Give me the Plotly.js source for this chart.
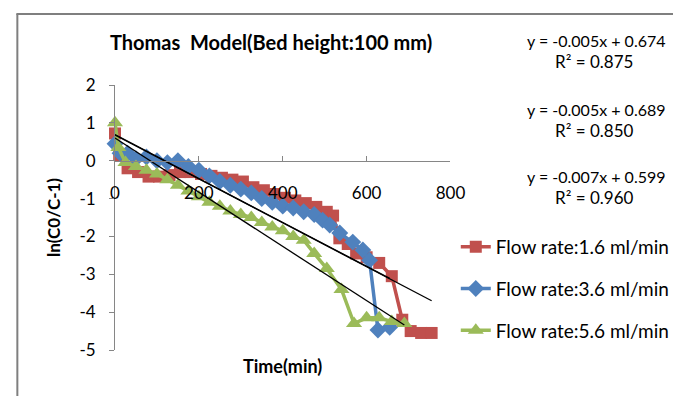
<!DOCTYPE html>
<html>
<head>
<meta charset="utf-8">
<script src="https://cdn.plot.ly/plotly-3.0.1.min.js"></script>
<style>html,body{margin:0;padding:0;background:#fff;}#chart{width:675px;height:396px;}</style>
</head>
<body>
<div id="chart"></div>
<script>
// ---- data ----
const seriesNames = ["Flow rate:1.6 ml/min", "Flow rate:3.6 ml/min", "Flow rate:5.6 ml/min"];

const timeRed = [0, 10, 30, 55, 80, 105, 130, 155, 180, 205, 230, 255, 280, 305, 330, 355, 380, 405, 430, 455, 480, 505, 520, 535, 555, 575, 600, 630, 660, 685, 705, 730, 755];
const lnRed   = [0.72, 0.15, -0.2, -0.3, -0.42, -0.42, -0.38, -0.3, -0.3, -0.35, -0.4, -0.45, -0.5, -0.55, -0.7, -0.78, -0.88, -0.98, -1.05, -1.12, -1.22, -1.35, -1.45, -2.05, -2.2, -2.45, -2.55, -2.7, -3.05, -4.2, -4.5, -4.55, -4.55];

const timeBlue = [0, 12, 30, 50, 75, 100, 125, 150, 175, 200, 225, 250, 275, 300, 325, 350, 375, 400, 425, 450, 475, 495, 512, 536, 567, 591, 607, 627, 655];
const lnBlue   = [0.45, 0.2, 0.2, 0.05, 0.1, 0.0, -0.05, 0.0, -0.15, -0.25, -0.4, -0.55, -0.65, -0.75, -0.85, -1.0, -1.1, -1.2, -1.25, -1.35, -1.42, -1.57, -1.7, -1.91, -2.15, -2.36, -2.63, -4.47, -4.4];

const timeGreen = [0, 8, 25, 50, 75, 100, 125, 150, 175, 200, 225, 250, 275, 300, 325, 350, 375, 400, 425, 450, 475, 505, 540, 570, 600, 630, 660, 690];
const lnGreen   = [1.0, 0.35, -0.05, -0.15, -0.25, -0.35, -0.5, -0.65, -0.8, -0.95, -1.1, -1.2, -1.33, -1.42, -1.5, -1.63, -1.75, -1.85, -2.0, -2.1, -2.45, -2.85, -3.4, -4.3, -4.15, -4.15, -4.25, -4.3];

// trend lines as drawn in the picture
const trendSlope     = [-0.0058, -0.0058, -0.00716];
const trendIntercept = [0.68, 0.69, 0.60];
const eqTexts = ["y = -0.005x + 0.674", "y = -0.005x + 0.689", "y = -0.007x + 0.599"];
const r2Texts = ["R\u00b2 = 0.875", "R\u00b2 = 0.850", "R\u00b2 = 0.960"];

const xTickVals = [0, 200, 400, 600, 800];
const xTickText = ["0", "200", "400", "600", "800"];
const yTickVals = [-5, -4, -3, -2, -1, 0, 1, 2];
const yTickText = ["-5", "-4", "-3", "-2", "-1", "0", "1", "2"];

// ---- styling / layout ----
const FONT = "Lato, 'Open Sans', sans-serif";
const W = 675, H = 396;
const M = {l: 115, r: 0, t: 85, b: 46};
const PAPERW = W - M.l - M.r, PH = H - M.t - M.b;
const PLOT_RIGHT = 451.7;                       // right end of the x axis, in px
const px2x = p => (p - M.l) / PAPERW;
const py2y = p => (H - M.b - p) / PH;

const colors = ["#C0504D", "#4F81BD", "#9BBB59"];
const symbols = ["square", "diamond", "triangle-up"];
const msize = [12, 13, 14];
const times = [timeRed, timeBlue, timeGreen];
const vals = [lnRed, lnBlue, lnGreen];

const traces = [];
for (let i = 0; i < 3; i++) {
  traces.push({
    x: times[i], y: vals[i], name: seriesNames[i], type: "scatter", mode: "lines+markers",
    line: {color: colors[i], width: 3.5},
    marker: {symbol: symbols[i], size: msize[i], color: colors[i]},
    legendgroup: "g" + i, cliponaxis: false
  });
}
for (let i = 0; i < 3; i++) {
  const tx = [0, Math.max(...times[i])];
  traces.push({
    x: tx, y: tx.map(t => trendSlope[i] * t + trendIntercept[i]),
    type: "scatter", mode: "lines", showlegend: false, hoverinfo: "skip",
    line: {color: "#000", width: 1.3}
  });
}

const annotations = [];
const eqY = [40, 109, 176], r2Y = [61, 130, 197];
for (let i = 0; i < 3; i++) {
  annotations.push({xref: "paper", yref: "paper", x: px2x(526), y: py2y(eqY[i]), xanchor: "left", yanchor: "middle",
    text: eqTexts[i], showarrow: false, font: {family: FONT, size: 16, color: "#000"}});
  annotations.push({xref: "paper", yref: "paper", x: px2x(596), y: py2y(r2Y[i]), xanchor: "center", yanchor: "middle",
    text: r2Texts[i], showarrow: false, font: {family: FONT, size: 17, color: "#000"}});
}
annotations.push({xref: "paper", yref: "paper", x: px2x(272), y: py2y(42), xanchor: "center", yanchor: "middle",
  text: "<b>Thomas  Model(Bed height:100 mm)</b>", showarrow: false, font: {family: FONT, size: 20, color: "#000"}});
annotations.push({xref: "paper", yref: "paper", x: px2x(283), y: py2y(366), xanchor: "center", yanchor: "middle",
  text: "<b>Time(min)</b>", showarrow: false, font: {family: FONT, size: 18, color: "#000"}});

const layout = {
  width: W, height: H, margin: M,
  paper_bgcolor: "#fff", plot_bgcolor: "rgba(0,0,0,0)",
  font: {family: FONT, size: 16, color: "#000"},
  showlegend: true,
  legend: {x: px2x(457), xanchor: "left", y: py2y(228), yanchor: "top", bgcolor: "rgba(0,0,0,0)",
    traceorder: "grouped", tracegroupgap: 14, font: {family: FONT, size: 19, color: "#000"}},
  xaxis: {domain: [0, px2x(PLOT_RIGHT)], range: [0, 800], tickvals: xTickVals, ticktext: xTickText, anchor: "free", position: 5 / 7,
    showline: true, linecolor: "#868686", linewidth: 1, ticks: "inside", ticklen: 5, tickcolor: "#868686",
    ticklabelstandoff: 17, showgrid: false, zeroline: false, tickfont: {size: 17}},
  yaxis: {range: [-5, 2], tickvals: yTickVals, ticktext: yTickText, showline: true, linecolor: "#868686", linewidth: 1,
    ticks: "outside", ticklen: 5, tickcolor: "#868686", ticklabelstandoff: 10, showgrid: false, zeroline: false,
    tickfont: {size: 17},
    title: {text: "<b>ln(C0/C-1)</b>", font: {size: 17}, standoff: 14}},
  annotations: annotations,
  shapes: [
    {type: "line", xref: "paper", yref: "paper", x0: px2x(17), x1: px2x(17), y0: py2y(14), y1: py2y(396), line: {color: "#7f7f7f", width: 2}},
    {type: "line", xref: "paper", yref: "paper", x0: px2x(16), x1: px2x(675), y0: py2y(14), y1: py2y(14), line: {color: "#7f7f7f", width: 2}}
  ]
};

Plotly.newPlot("chart", traces, layout, {displayModeBar: false, staticPlot: true});
</script>
</body>
</html>
